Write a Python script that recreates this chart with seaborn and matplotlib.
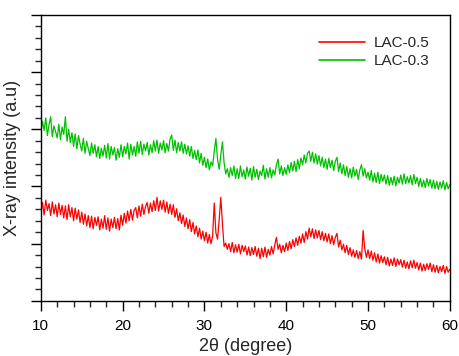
import numpy as np
import pandas as pd
import matplotlib
matplotlib.use("Agg")
import matplotlib.pyplot as plt
import seaborn as sns
from matplotlib.ticker import MultipleLocator

# 2-theta scan grid (step 0.2 deg)
two_theta = np.round(np.arange(10.0, 60.01, 0.2), 1)

# intensities (arbitrary units), one row per degree
lac_03 = [
    294, 314, 298, 320, 289,  308, 322, 287, 306, 296,
    285, 309, 282, 304, 291,  322, 279, 300, 277, 294,
    270, 292, 266, 289, 274,  262, 284, 258, 279, 266,
    254, 276, 258, 273, 252,  270, 249, 267, 253, 272,
    250, 275, 248, 270, 255,  268, 246, 266, 251, 273,
    252, 270, 257, 276, 248,  274, 255, 270, 253, 278,
    258, 279, 256, 274, 262,  277, 255, 273, 259, 280,
    262, 281, 258, 276, 264,  280, 259, 275, 262, 283,
    290, 263, 281, 259, 277,  262, 278, 258, 274, 257,
    271, 253, 270, 249, 263,  247, 264, 241, 258, 237,
    251, 233, 248, 229, 243,  236, 262, 284, 248, 230,
    255, 278, 242, 222, 231,  216, 233, 219, 236, 214,
    231, 214, 236, 217, 229,  213, 234, 218, 232, 211,
    235, 216, 230, 212, 227,  219, 237, 213, 231, 216,
    233, 215, 229, 220, 238,  248, 222, 236, 219, 233,
    221, 238, 224, 242, 227,  244, 226, 247, 231, 250,
    238, 255, 241, 258, 262,  244, 260, 241, 257, 239,
    254, 236, 251, 233, 248,  230, 249, 233, 246, 228,
    244, 251, 226, 241, 222,  238, 219, 235, 216, 231,
    215, 234, 218, 230, 212,  229, 238, 218, 231, 215,
    225, 211, 228, 208, 223,  207, 225, 205, 221, 209,
    220, 204, 219, 202, 216,  203, 218, 201, 216, 206,
    220, 204, 222, 205, 217,  206, 219, 203, 221, 205,
    216, 200, 214, 199, 211,  198, 214, 201, 212, 197,
    211, 196, 209, 195, 208,  197, 210, 194, 207, 196,
    203,
]

lac_05 = [
    154, 172, 150, 176, 158,  170, 149, 173, 152, 168,
    147, 171, 151, 167, 145,  166, 142, 168, 147, 163,
    140, 162, 143, 159, 137,  155, 134, 152, 131, 149,
    128, 148, 126, 146, 132,  147, 124, 143, 127, 149,
    125, 145, 122, 143, 128,  146, 126, 144, 124, 150,
    132, 153, 136, 157, 140,  160, 141, 158, 163, 145,
    166, 148, 169, 151, 165,  172, 153, 171, 156, 175,
    158, 181, 157, 175, 160,  176, 155, 173, 153, 169,
    151, 168, 146, 161, 140,  154, 135, 150, 130, 145,
    126, 142, 121, 137, 117,  131, 112, 127, 108, 122,
    105, 120, 101, 116, 100,  113, 171, 119, 108, 141,
    181, 135, 95, 101, 90,    100, 86, 102, 84, 98,
    85, 99, 82, 97, 86,       96, 80, 94, 79, 93,
    81, 95, 78, 92, 74,       92, 77, 94, 76, 90,
    80, 95, 82, 98, 111,      90, 99, 84, 97, 86,
    101, 88, 104, 91, 107,    95, 110, 97, 113, 101,
    117, 102, 121, 108, 127,  112, 126, 109, 124, 110,
    123, 107, 121, 105, 118,  103, 117, 100, 114, 98,
    111, 118, 94, 106, 89,    99, 84, 97, 81, 93,
    78, 89, 76, 88, 74,       86, 73, 123, 91, 76,
    89, 74, 87, 71, 84,       68, 82, 66, 79, 67,
    77, 63, 76, 61, 73,       62, 75, 60, 73, 63,
    72, 59, 71, 57, 68,       56, 70, 58, 71, 57,
    67, 54, 66, 52, 64,       53, 65, 55, 66, 51,
    63, 50, 62, 49, 60,       51, 62, 48, 60, 50,
    55,
]

samples = ["LAC-0.5", "LAC-0.3"]
colors = ["#ff0000", "#00c000"]

assert len(lac_03) == len(two_theta) and len(lac_05) == len(two_theta)

df = pd.concat([
    pd.DataFrame({"two_theta": two_theta, "intensity": lac_05, "sample": samples[0]}),
    pd.DataFrame({"two_theta": two_theta, "intensity": lac_03, "sample": samples[1]}),
])

sns.set_style("ticks")
plt.rcParams["font.family"] = ["Liberation Sans", "DejaVu Sans"]

fig = plt.figure(figsize=(4.59, 3.56), dpi=100)
ax = fig.add_axes([0.089, 0.155, 0.891, 0.803])

sns.lineplot(data=df, x="two_theta", y="intensity", hue="sample",
             hue_order=samples, palette=colors, linewidth=0.9,
             estimator=None, sort=False, ax=ax)

ax.set_xlim(10, 60)
ax.set_ylim(0, 500)
ax.xaxis.set_major_locator(MultipleLocator(10))
ax.xaxis.set_minor_locator(MultipleLocator(2))
ax.yaxis.set_major_locator(MultipleLocator(100))
ax.yaxis.set_minor_locator(MultipleLocator(20))
ax.set_yticklabels([])
ax.tick_params(axis="both", which="major", direction="out", length=7, width=1,
               labelsize=11, colors="black", pad=6)
ax.tick_params(axis="both", which="minor", direction="out", length=4, width=1)
for s in ax.spines.values():
    s.set_color("black")
    s.set_linewidth(1)

ax.set_xlabel("2\u03b8 (degree)", fontsize=13, labelpad=4)
ax.set_ylabel("X-ray intensity (a.u)", fontsize=13, labelpad=1)

leg = ax.legend(loc="upper right", frameon=False, fontsize=11,
                handlelength=3.0, handletextpad=0.6, labelspacing=0.3,
                bbox_to_anchor=(0.985, 0.975))
for h in leg.get_lines():
    h.set_linewidth(1.2)

fig.savefig("out.png", dpi=100)
